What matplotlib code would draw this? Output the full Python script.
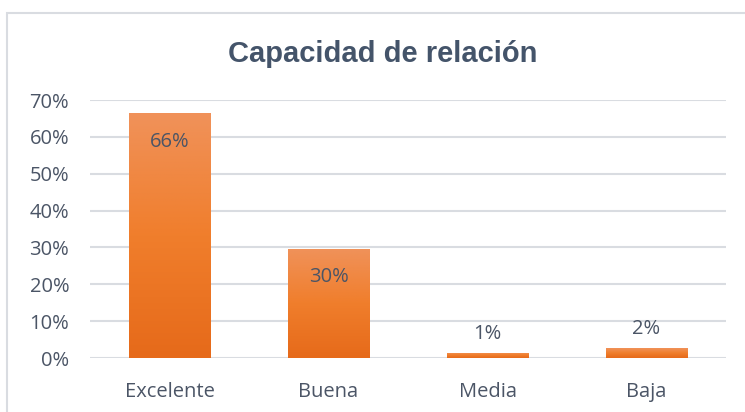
import numpy as np
import matplotlib.pyplot as plt
from matplotlib.patches import Rectangle
from matplotlib.colors import LinearSegmentedColormap

# datos
categorias = ['Excelente', 'Buena', 'Media', 'Baja']
valores = [0.664, 0.297, 0.014, 0.026]
etiquetas = ['66%', '30%', '1%', '2%']

texto_col = '#4B5566'
titulo_col = '#44546A'

fig = plt.figure(figsize=(7.45, 4.12), dpi=100)
ax = fig.add_axes([0.1208, 0.131, 0.8537, 0.626])

# marco exterior del grafico
fig.patches.append(Rectangle((7 / 745, -0.02), 1.0, 1 - 13 / 412 + 0.02,
                             transform=fig.transFigure, fill=False,
                             edgecolor='#D9DCE1', linewidth=1.5))

x = np.arange(len(categorias))
barras = ax.bar(x, valores, width=0.51, color='none', edgecolor='none', zorder=2)

# degradado naranja en cada barra
cmap = LinearSegmentedColormap.from_list('nar', ['#E66A1A', '#F07E2C', '#F0925A'])
grad = np.linspace(0, 1, 256).reshape(-1, 1)
for b in barras:
    x0, y0 = b.get_x(), b.get_y()
    w, h = b.get_width(), b.get_height()
    im = ax.imshow(grad, cmap=cmap, aspect='auto', origin='lower',
                   extent=[x0, x0 + w, y0, y0 + h], zorder=2)
    im.set_clip_path(b)

# etiquetas de datos
for i, (v, t) in enumerate(zip(valores, etiquetas)):
    if v > 0.1:
        ypos = v - 0.078
    else:
        ypos = v + 0.052
    ax.text(i, ypos, t, ha='center', va='center', fontsize=14.5,
            color=texto_col, family='Open Sans', zorder=3)

ax.set_xlim(-0.5, 3.5)
ax.set_ylim(0, 0.7)
ax.set_yticks(np.arange(0, 0.71, 0.1))
ax.set_yticklabels([f'{int(round(t * 100))}%' for t in np.arange(0, 0.71, 0.1)])
ax.set_xticks(x)
ax.set_xticklabels(categorias)
ax.yaxis.grid(True, color='#D9DCE1', linewidth=1.5, zorder=0)
ax.set_axisbelow(True)
for s in ax.spines.values():
    s.set_visible(False)
ax.tick_params(length=0, labelsize=14.5, labelcolor=texto_col)
ax.tick_params(axis='y', pad=15)
ax.tick_params(axis='x', pad=17)
for lab in ax.get_xticklabels() + ax.get_yticklabels():
    lab.set_family('Open Sans')

fig.text(0.514, 0.868, 'Capacidad de relación', ha='center', va='center',
         fontsize=21, fontweight='bold', color=titulo_col, family='Liberation Sans')

fig.savefig('out.png', dpi=100)
